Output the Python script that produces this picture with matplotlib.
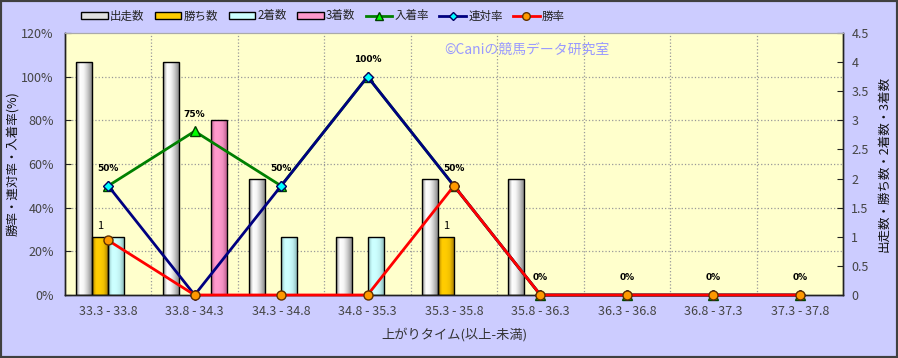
import matplotlib
matplotlib.use("Agg")
import matplotlib.pyplot as plt
import numpy as np
from matplotlib.colors import LinearSegmentedColormap
from matplotlib.patches import Rectangle, Patch
from matplotlib.lines import Line2D

plt.rcParams['font.family'] = ['Noto Sans CJK JP', 'DejaVu Sans']

categories = ['33.3 - 33.8', '33.8 - 34.3', '34.3 - 34.8', '34.8 - 35.3', '35.3 - 35.8',
              '35.8 - 36.3', '36.3 - 36.8', '36.8 - 37.3', '37.3 - 37.8']
starts = [4, 4, 2, 1, 2, 2, 0, 0, 0]        # 出走数
wins = [1, 0, 0, 0, 1, 0, 0, 0, 0]          # 勝ち数
seconds = [1, 0, 1, 1, 0, 0, 0, 0, 0]       # 2着数
thirds = [0, 3, 0, 0, 0, 0, 0, 0, 0]        # 3着数
place_rate = [50, 75, 50, 100, 50, 0, 0, 0, 0]   # 入着率
quinella_rate = [50, 0, 50, 100, 50, 0, 0, 0, 0]  # 連対率
win_rate = [25, 0, 0, 0, 50, 0, 0, 0, 0]          # 勝率

bar_series = [
    ('出走数', starts, ['#8a8a8a', '#ffffff', '#f4f4f4', '#c8c8c8', '#8c8c8c'], '#e0e0e0'),
    ('勝ち数', wins, ['#a87c00', '#ffcc00', '#ffcc00', '#f0c000', '#b08400'], '#ffcc00'),
    ('2着数', seconds, ['#8fbfbf', '#ccffff', '#ccffff', '#c0f0f0', '#8fbfbf'], '#ccffff'),
    ('3着数', thirds, ['#c06090', '#ff99cc', '#ff99cc', '#f090c0', '#c06090'], '#ff99cc'),
]

fig = plt.figure(figsize=(8.98, 3.58), dpi=100, facecolor='#ccccff')
ax = fig.add_axes([65/898, 1-295/358, 778/898, 262/358])
ax.set_facecolor('#ffffcc')

x = np.arange(len(categories))
bw = 0.185
grad = np.linspace(0, 1, 64).reshape(1, -1)
for i, (name, vals, cols, _) in enumerate(bar_series):
    cmap = LinearSegmentedColormap.from_list(name, cols)
    bars = ax.bar(x + (i - 1.5) * bw, vals, bw, facecolor='none', edgecolor='black',
                  linewidth=1, zorder=3)
    for b in bars:
        if b.get_height() <= 0:
            b.set_visible(False)
            continue
        im = ax.imshow(grad, extent=[b.get_x(), b.get_x() + b.get_width(), 0, b.get_height()],
                       aspect='auto', cmap=cmap, zorder=2, interpolation='bilinear')
        im.set_clip_path(b)

for xi, v in zip(x, wins):
    if v > 0:
        ax.annotate(str(v), (xi - 0.5 * bw, v), xytext=(0, 4), textcoords='offset points',
                    ha='center', va='bottom', fontsize=8, color='black', zorder=6)

ax.set_xlim(-0.5, len(categories) - 0.5)
ax.set_ylim(0, 4.5)
ax.set_xticks(x)
ax.set_xticklabels(categories)
ax.tick_params(axis='x', length=0, labelsize=9, labelcolor='#444444', pad=7)
ax.set_xlabel('上がりタイム(以上-未満)', fontsize=9.5, color='#333333', labelpad=7)

# grid
for b in np.arange(0.5, len(categories) - 0.5, 1):
    ax.axvline(b, color='#999999', linestyle=':', linewidth=0.9, zorder=1)
pct_ticks = [0, 20, 40, 60, 80, 100, 120]
for p in pct_ticks[1:-1]:
    ax.axhline(p / 120 * 4.5, color='#999999', linestyle=':', linewidth=0.9, zorder=1)

ax2 = ax.twinx()
ax.yaxis.tick_right()
ax.yaxis.set_label_position('right')
ax.set_yticks(np.arange(0, 4.51, 0.5))
ax.set_yticklabels(['0', '0.5', '1', '1.5', '2', '2.5', '3', '3.5', '4', '4.5'])
ax.tick_params(axis='y', direction='in', length=4, labelsize=9, labelcolor='#444444',
               color='#222222', pad=6)
ax.set_ylabel('出走数・勝ち数・2着数・3着数', fontsize=9, color='#111111', labelpad=6)

ax2.set_ylim(0, 120)
ax2.yaxis.tick_left()
ax2.yaxis.set_label_position('left')
ax2.set_yticks(pct_ticks)
ax2.set_yticklabels([f'{p}%' for p in pct_ticks])
ax2.tick_params(axis='y', direction='in', length=4, labelsize=9, labelcolor='#444444',
                color='#222222', pad=8)
ax2.set_ylabel('勝率・連対率・入着率(%)', fontsize=9, color='#111111', labelpad=2)

ax2.plot(x, place_rate, color='#008000', linewidth=2, marker='^', markersize=7,
         markerfacecolor='#00ff00', markeredgecolor='#004000', zorder=3, clip_on=False)
ax2.plot(x, quinella_rate, color='#000080', linewidth=2, marker='D', markersize=5.5,
         markerfacecolor='#00ffff', markeredgecolor='#000060', zorder=4, clip_on=False)
ax2.plot(x, win_rate, color='#ff0000', linewidth=2, marker='o', markersize=6.5,
         markerfacecolor='#ff9900', markeredgecolor='#603000', zorder=5, clip_on=False)

for xi, v in zip(x, place_rate):
    ax2.annotate(f'{v}%', (xi, v), xytext=(0, 9), textcoords='offset points',
                 ha='center', va='bottom', fontsize=6.5, fontweight='bold',
                 family='DejaVu Sans', color='black', zorder=6)

for a in (ax, ax2):
    for s in ('left', 'right', 'bottom'):
        a.spines[s].set_color('#222222')
        a.spines[s].set_linewidth(1)
    a.spines['top'].set_color('#aaaaaa')
    a.spines['top'].set_linewidth(0.8)

ax.text(0.488, 0.935, '©Caniの競馬データ研究室', transform=ax.transAxes, fontsize=10,
        color='#9999ff', ha='left', va='center', zorder=6)

handles = []
for name, _, cols, face in bar_series:
    handles.append(Patch(facecolor=face, edgecolor='black', linewidth=1, label=name))
handles.append(Line2D([], [], color='#008000', linewidth=2, marker='^', markersize=6,
                      markerfacecolor='#00ff00', markeredgecolor='#004000', label='入着率'))
handles.append(Line2D([], [], color='#000080', linewidth=2, marker='D', markersize=4.5,
                      markerfacecolor='#00ffff', markeredgecolor='#000060', label='連対率'))
handles.append(Line2D([], [], color='#ff0000', linewidth=2, marker='o', markersize=5.5,
                      markerfacecolor='#ff9900', markeredgecolor='#603000', label='勝率'))
fig.legend(handles=handles, loc='center', bbox_to_anchor=(323/898, 1-16/358), ncol=7,
           frameon=False, fontsize=8.3, handlelength=2.3, handleheight=0.55,
           handletextpad=0.2, columnspacing=0.9, labelcolor='#222222')

fig.patches.append(Rectangle((0, 0), 1, 1, transform=fig.transFigure, fill=False,
                             edgecolor='#404040', linewidth=3))

fig.savefig('out.png', dpi=100, facecolor=fig.get_facecolor())
